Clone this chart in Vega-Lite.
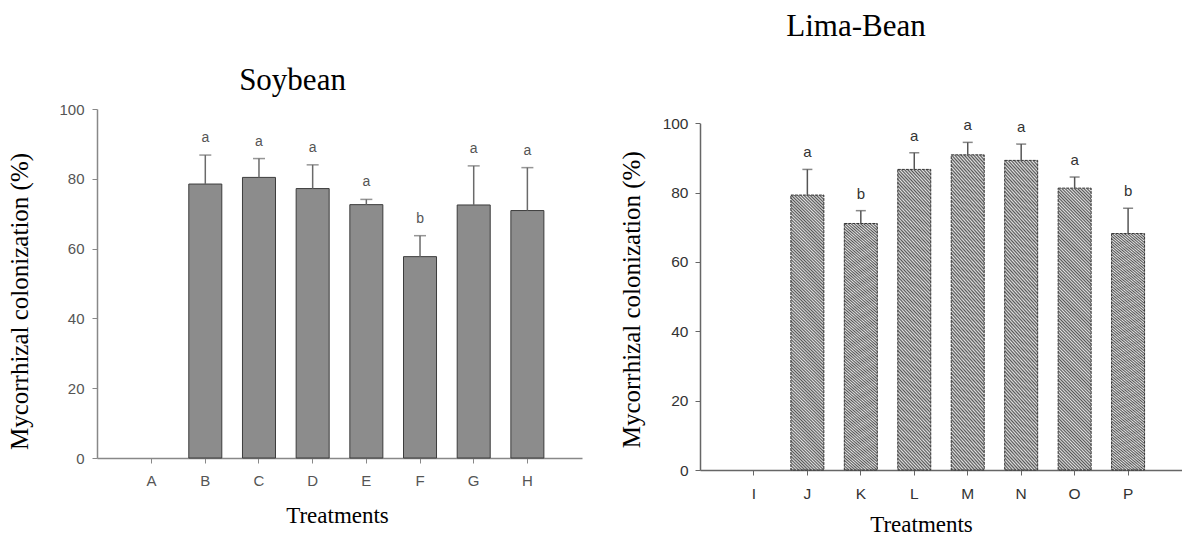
{
  "$schema": "https://vega.github.io/schema/vega-lite/v6.json",
  "background": "white",
  "padding": {"left": 7, "top": 10, "right": 0, "bottom": 0},
  "autosize": {"type": "pad"},
  "spacing": 37,
  "config": {"view": {"stroke": null}, "axis": {"grid": false}},
  "hconcat": [
    {
      "width": 485,
      "height": 349,
      "title": {"text": "Soybean", "fontSize": 31, "font": "Liberation Serif", "fontWeight": "normal", "color": "black", "anchor": "middle", "dx": -47, "offset": 5.5},
      "data": {"values": [
        {"treatment": "A", "mean": null, "upper": null, "group": null},
        {"treatment": "B", "mean": 78.5, "upper": 86.8, "group": "a"},
        {"treatment": "C", "mean": 80.4, "upper": 85.8, "group": "a"},
        {"treatment": "D", "mean": 77.2, "upper": 84.0, "group": "a"},
        {"treatment": "E", "mean": 72.6, "upper": 74.1, "group": "a"},
        {"treatment": "F", "mean": 57.7, "upper": 63.7, "group": "b"},
        {"treatment": "G", "mean": 72.5, "upper": 83.7, "group": "a"},
        {"treatment": "H", "mean": 70.9, "upper": 83.2, "group": "a"}
      ]},
      "encoding": {
        "x": {"field": "treatment", "type": "nominal",
          "scale": {"domain": ["A","B","C","D","E","F","G","H"], "paddingInner": 0.385, "paddingOuter": 0.71},
          "axis": {"title": "Treatments", "titleFont": "Liberation Serif", "titleFontSize": 23, "titleFontWeight": "normal", "titleColor": "black", "titleX": 240, "titleY": 64, "titleBaseline": "alphabetic", "titleAlign": "center", "labelAngle": 0, "labelFont": "Liberation Sans", "labelFontSize": 15, "labelColor": "#555555", "labelPadding": 10, "tickSize": 5, "tickColor": "#888888", "domainColor": "#888888", "domainWidth": 1.5}}
      },
      "layer": [
        {"mark": {"type": "bar", "fill": "#8c8c8c", "stroke": "#3c3c3c", "strokeWidth": 1},
          "encoding": {"y": {"field": "mean", "type": "quantitative", "title": "Mycorrhizal colonization (%)", "scale": {"domain": [0, 100]},
            "axis": {"values": [0, 20, 40, 60, 80, 100], "titleFont": "Liberation Serif", "titleFontSize": 25, "titleFontWeight": "normal", "titleColor": "black", "titleX": -78, "titleY": 192, "titleBaseline": "middle", "titleAlign": "center", "labelFont": "Liberation Sans", "labelFontSize": 15, "labelColor": "#555555", "labelPadding": 8, "tickSize": 5, "tickColor": "#888888", "domainColor": "#888888", "domainWidth": 1.5}}}},
        {"mark": {"type": "rule", "color": "#6a6a6a", "strokeWidth": 1.5},
          "encoding": {"y": {"field": "mean", "type": "quantitative", "title": "Mycorrhizal colonization (%)"}, "y2": {"field": "upper"}}},
        {"mark": {"type": "tick", "color": "#6a6a6a", "size": 12, "thickness": 1.5},
          "encoding": {"y": {"field": "upper", "type": "quantitative", "title": "Mycorrhizal colonization (%)"}}},
        {"mark": {"type": "text", "dy": -17, "font": "Liberation Sans", "fontSize": 14, "color": "#555555"},
          "encoding": {"y": {"field": "upper", "type": "quantitative", "title": "Mycorrhizal colonization (%)"}, "text": {"field": "group"}}}
      ]
    },
    {
      "width": 482,
      "height": 361,
      "title": {"text": "Lima-Bean", "fontSize": 31, "font": "Liberation Serif", "fontWeight": "normal", "color": "black", "anchor": "middle", "dx": -85, "offset": 66.5},
      "data": {"values": [
        {"treatment": "I", "mean": null, "upper": null, "group": null},
        {"treatment": "J", "mean": 79.3, "upper": 86.7, "group": "a"},
        {"treatment": "K", "mean": 71.1, "upper": 74.8, "group": "b"},
        {"treatment": "L", "mean": 86.7, "upper": 91.5, "group": "a"},
        {"treatment": "M", "mean": 90.9, "upper": 94.5, "group": "a"},
        {"treatment": "N", "mean": 89.3, "upper": 94.0, "group": "a"},
        {"treatment": "O", "mean": 81.3, "upper": 84.5, "group": "a"},
        {"treatment": "P", "mean": 68.2, "upper": 75.5, "group": "b"}
      ]},
      "encoding": {
        "x": {"field": "treatment", "type": "nominal",
          "scale": {"domain": ["I","J","K","L","M","N","O","P"], "paddingInner": 0.383, "paddingOuter": 0.7},
          "axis": {"title": "Treatments", "titleFont": "Liberation Serif", "titleFontSize": 23, "titleFontWeight": "normal", "titleColor": "black", "titleX": 221, "titleY": 61, "titleBaseline": "alphabetic", "titleAlign": "center", "labelAngle": 0, "labelFont": "Liberation Sans", "labelFontSize": 15.5, "labelColor": "#333333", "labelPadding": 11, "tickSize": 5, "tickColor": "#666666", "domainColor": "#666666", "domainWidth": 1.5}}
      },
      "layer": [
        {"mark": {"type": "bar", "stroke": "#333333", "strokeWidth": 1, "strokeDash": [3, 1],
          "fill": {"gradient": "linear", "x1": 0, "y1": 1, "x2": 0.13, "y2": -0.103, "stops": [
{"offset":0,"color":"#e2e2e2"},{"offset":0.005,"color":"#555555"},{"offset":0.01,"color":"#e2e2e2"},{"offset":0.015,"color":"#555555"},{"offset":0.02,"color":"#e2e2e2"},{"offset":0.025,"color":"#555555"},{"offset":0.03,"color":"#e2e2e2"},{"offset":0.035,"color":"#555555"},{"offset":0.04,"color":"#e2e2e2"},{"offset":0.045,"color":"#555555"},
{"offset":0.05,"color":"#e2e2e2"},{"offset":0.055,"color":"#555555"},{"offset":0.06,"color":"#e2e2e2"},{"offset":0.065,"color":"#555555"},{"offset":0.07,"color":"#e2e2e2"},{"offset":0.075,"color":"#555555"},{"offset":0.08,"color":"#e2e2e2"},{"offset":0.085,"color":"#555555"},{"offset":0.09,"color":"#e2e2e2"},{"offset":0.095,"color":"#555555"},
{"offset":0.1,"color":"#e2e2e2"},{"offset":0.105,"color":"#555555"},{"offset":0.11,"color":"#e2e2e2"},{"offset":0.115,"color":"#555555"},{"offset":0.12,"color":"#e2e2e2"},{"offset":0.125,"color":"#555555"},{"offset":0.13,"color":"#e2e2e2"},{"offset":0.135,"color":"#555555"},{"offset":0.14,"color":"#e2e2e2"},{"offset":0.145,"color":"#555555"},
{"offset":0.15,"color":"#e2e2e2"},{"offset":0.155,"color":"#555555"},{"offset":0.16,"color":"#e2e2e2"},{"offset":0.165,"color":"#555555"},{"offset":0.17,"color":"#e2e2e2"},{"offset":0.175,"color":"#555555"},{"offset":0.18,"color":"#e2e2e2"},{"offset":0.185,"color":"#555555"},{"offset":0.19,"color":"#e2e2e2"},{"offset":0.195,"color":"#555555"},
{"offset":0.2,"color":"#e2e2e2"},{"offset":0.205,"color":"#555555"},{"offset":0.21,"color":"#e2e2e2"},{"offset":0.215,"color":"#555555"},{"offset":0.22,"color":"#e2e2e2"},{"offset":0.225,"color":"#555555"},{"offset":0.23,"color":"#e2e2e2"},{"offset":0.235,"color":"#555555"},{"offset":0.24,"color":"#e2e2e2"},{"offset":0.245,"color":"#555555"},
{"offset":0.25,"color":"#e2e2e2"},{"offset":0.255,"color":"#555555"},{"offset":0.26,"color":"#e2e2e2"},{"offset":0.265,"color":"#555555"},{"offset":0.27,"color":"#e2e2e2"},{"offset":0.275,"color":"#555555"},{"offset":0.28,"color":"#e2e2e2"},{"offset":0.285,"color":"#555555"},{"offset":0.29,"color":"#e2e2e2"},{"offset":0.295,"color":"#555555"},
{"offset":0.3,"color":"#e2e2e2"},{"offset":0.305,"color":"#555555"},{"offset":0.31,"color":"#e2e2e2"},{"offset":0.315,"color":"#555555"},{"offset":0.32,"color":"#e2e2e2"},{"offset":0.325,"color":"#555555"},{"offset":0.33,"color":"#e2e2e2"},{"offset":0.335,"color":"#555555"},{"offset":0.34,"color":"#e2e2e2"},{"offset":0.345,"color":"#555555"},
{"offset":0.35,"color":"#e2e2e2"},{"offset":0.355,"color":"#555555"},{"offset":0.36,"color":"#e2e2e2"},{"offset":0.365,"color":"#555555"},{"offset":0.37,"color":"#e2e2e2"},{"offset":0.375,"color":"#555555"},{"offset":0.38,"color":"#e2e2e2"},{"offset":0.385,"color":"#555555"},{"offset":0.39,"color":"#e2e2e2"},{"offset":0.395,"color":"#555555"},
{"offset":0.4,"color":"#e2e2e2"},{"offset":0.405,"color":"#555555"},{"offset":0.41,"color":"#e2e2e2"},{"offset":0.415,"color":"#555555"},{"offset":0.42,"color":"#e2e2e2"},{"offset":0.425,"color":"#555555"},{"offset":0.43,"color":"#e2e2e2"},{"offset":0.435,"color":"#555555"},{"offset":0.44,"color":"#e2e2e2"},{"offset":0.445,"color":"#555555"},
{"offset":0.45,"color":"#e2e2e2"},{"offset":0.455,"color":"#555555"},{"offset":0.46,"color":"#e2e2e2"},{"offset":0.465,"color":"#555555"},{"offset":0.47,"color":"#e2e2e2"},{"offset":0.475,"color":"#555555"},{"offset":0.48,"color":"#e2e2e2"},{"offset":0.485,"color":"#555555"},{"offset":0.49,"color":"#e2e2e2"},{"offset":0.495,"color":"#555555"},
{"offset":0.5,"color":"#e2e2e2"},{"offset":0.505,"color":"#555555"},{"offset":0.51,"color":"#e2e2e2"},{"offset":0.515,"color":"#555555"},{"offset":0.52,"color":"#e2e2e2"},{"offset":0.525,"color":"#555555"},{"offset":0.53,"color":"#e2e2e2"},{"offset":0.535,"color":"#555555"},{"offset":0.54,"color":"#e2e2e2"},{"offset":0.545,"color":"#555555"},
{"offset":0.55,"color":"#e2e2e2"},{"offset":0.555,"color":"#555555"},{"offset":0.56,"color":"#e2e2e2"},{"offset":0.565,"color":"#555555"},{"offset":0.57,"color":"#e2e2e2"},{"offset":0.575,"color":"#555555"},{"offset":0.58,"color":"#e2e2e2"},{"offset":0.585,"color":"#555555"},{"offset":0.59,"color":"#e2e2e2"},{"offset":0.595,"color":"#555555"},
{"offset":0.6,"color":"#e2e2e2"},{"offset":0.605,"color":"#555555"},{"offset":0.61,"color":"#e2e2e2"},{"offset":0.615,"color":"#555555"},{"offset":0.62,"color":"#e2e2e2"},{"offset":0.625,"color":"#555555"},{"offset":0.63,"color":"#e2e2e2"},{"offset":0.635,"color":"#555555"},{"offset":0.64,"color":"#e2e2e2"},{"offset":0.645,"color":"#555555"},
{"offset":0.65,"color":"#e2e2e2"},{"offset":0.655,"color":"#555555"},{"offset":0.66,"color":"#e2e2e2"},{"offset":0.665,"color":"#555555"},{"offset":0.67,"color":"#e2e2e2"},{"offset":0.675,"color":"#555555"},{"offset":0.68,"color":"#e2e2e2"},{"offset":0.685,"color":"#555555"},{"offset":0.69,"color":"#e2e2e2"},{"offset":0.695,"color":"#555555"},
{"offset":0.7,"color":"#e2e2e2"},{"offset":0.705,"color":"#555555"},{"offset":0.71,"color":"#e2e2e2"},{"offset":0.715,"color":"#555555"},{"offset":0.72,"color":"#e2e2e2"},{"offset":0.725,"color":"#555555"},{"offset":0.73,"color":"#e2e2e2"},{"offset":0.735,"color":"#555555"},{"offset":0.74,"color":"#e2e2e2"},{"offset":0.745,"color":"#555555"},
{"offset":0.75,"color":"#e2e2e2"},{"offset":0.755,"color":"#555555"},{"offset":0.76,"color":"#e2e2e2"},{"offset":0.765,"color":"#555555"},{"offset":0.77,"color":"#e2e2e2"},{"offset":0.775,"color":"#555555"},{"offset":0.78,"color":"#e2e2e2"},{"offset":0.785,"color":"#555555"},{"offset":0.79,"color":"#e2e2e2"},{"offset":0.795,"color":"#555555"},
{"offset":0.8,"color":"#e2e2e2"},{"offset":0.805,"color":"#555555"},{"offset":0.81,"color":"#e2e2e2"},{"offset":0.815,"color":"#555555"},{"offset":0.82,"color":"#e2e2e2"},{"offset":0.825,"color":"#555555"},{"offset":0.83,"color":"#e2e2e2"},{"offset":0.835,"color":"#555555"},{"offset":0.84,"color":"#e2e2e2"},{"offset":0.845,"color":"#555555"},
{"offset":0.85,"color":"#e2e2e2"},{"offset":0.855,"color":"#555555"},{"offset":0.86,"color":"#e2e2e2"},{"offset":0.865,"color":"#555555"},{"offset":0.87,"color":"#e2e2e2"},{"offset":0.875,"color":"#555555"},{"offset":0.88,"color":"#e2e2e2"},{"offset":0.885,"color":"#555555"},{"offset":0.89,"color":"#e2e2e2"},{"offset":0.895,"color":"#555555"},
{"offset":0.9,"color":"#e2e2e2"},{"offset":0.905,"color":"#555555"},{"offset":0.91,"color":"#e2e2e2"},{"offset":0.915,"color":"#555555"},{"offset":0.92,"color":"#e2e2e2"},{"offset":0.925,"color":"#555555"},{"offset":0.93,"color":"#e2e2e2"},{"offset":0.935,"color":"#555555"},{"offset":0.94,"color":"#e2e2e2"},{"offset":0.945,"color":"#555555"},
{"offset":0.95,"color":"#e2e2e2"},{"offset":0.955,"color":"#555555"},{"offset":0.96,"color":"#e2e2e2"},{"offset":0.965,"color":"#555555"},{"offset":0.97,"color":"#e2e2e2"},{"offset":0.975,"color":"#555555"},{"offset":0.98,"color":"#e2e2e2"},{"offset":0.985,"color":"#555555"},{"offset":0.99,"color":"#e2e2e2"},{"offset":0.995,"color":"#555555"},
{"offset":1,"color":"#e2e2e2"}
          ]}},
          "encoding": {"y": {"field": "mean", "type": "quantitative", "title": "Mycorrhizal colonization (%)", "scale": {"domain": [0, 100], "range": [361, 14.3]},
            "axis": {"values": [0, 20, 40, 60, 80, 100], "titleFont": "Liberation Serif", "titleFontSize": 25, "titleFontWeight": "normal", "titleColor": "black", "titleX": -69, "titleY": 190.3, "titleBaseline": "middle", "titleAlign": "center", "labelFont": "Liberation Sans", "labelFontSize": 15.5, "labelColor": "#333333", "labelPadding": 7, "tickSize": 5, "tickColor": "#666666", "domainColor": "#666666", "domainWidth": 1.5}}}},
        {"mark": {"type": "rule", "color": "#555555", "strokeWidth": 1.5},
          "encoding": {"y": {"field": "mean", "type": "quantitative", "title": "Mycorrhizal colonization (%)"}, "y2": {"field": "upper"}}},
        {"mark": {"type": "tick", "color": "#555555", "size": 10, "thickness": 1.5},
          "encoding": {"y": {"field": "upper", "type": "quantitative", "title": "Mycorrhizal colonization (%)"}}},
        {"mark": {"type": "text", "dy": -17, "font": "Liberation Sans", "fontSize": 15, "color": "#333333"},
          "encoding": {"y": {"field": "upper", "type": "quantitative", "title": "Mycorrhizal colonization (%)"}, "text": {"field": "group"}}}
      ]
    }
  ]
}
